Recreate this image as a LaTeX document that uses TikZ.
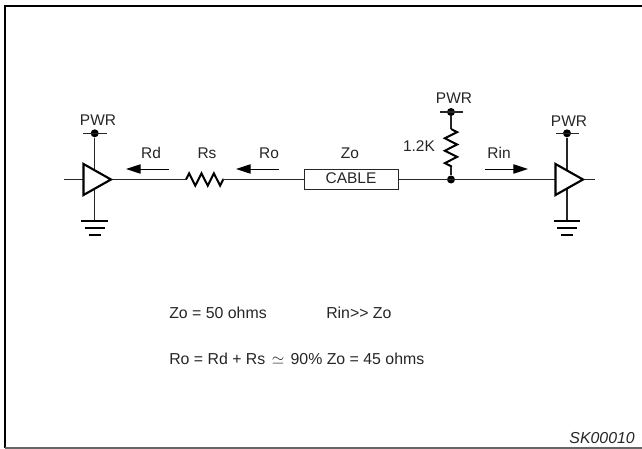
\documentclass[tikz,border=0pt]{standalone}
\usepackage{fontspec}
\setmainfont[Ligatures=NoCommon]{Liberation Sans}
\usetikzlibrary{arrows.meta, decorations.pathmorphing}
\tikzset{%
    % Symbols for the line drawing
    wire/.style    = {line width=0.95pt, black!85},
    buffer/.style  = {line width=1.6pt, line join=miter, fill=white},
    res/.style     = {line width=1.5pt, line join=miter, decorate,
    decoration={zigzag, amplitude=4.6pt, segment length=9.3pt}},
    dot/.style     = {circle, fill=black, inner sep=0pt, minimum size=6pt},
    gnd/.style     = {line width=1.6pt},
    flow/.style    = {-{Triangle[length=11pt,width=7pt]}, line width=0.7pt},
    txt/.style     = {font=\fontsize{11.6}{13}\selectfont, inner sep=0pt, text=black!85},
    eq/.style      = {txt, anchor=west, font=\fontsize{11.9}{13}\selectfont}
}
\begin{document}
\begin{tikzpicture}[x=0.75pt,y=-0.75pt]

	\useasboundingbox (0,0) rectangle (642,449);
	\fill[white] (0,0) rectangle (642,449);

	% cadre
	\coordinate (f1) at (5,448);
	\coordinate (f2) at (5,6);
	\coordinate (f3) at (642,6);
	\coordinate (f4) at (642,448);
	\draw[line width=2.2pt] (f1) -- (f2) -- (f3);
	\draw[line width=1.2pt, black!60] (f1) -- (f4);

	% placement des noeuds
	\coordinate (in1) at (64,179.5);
	\coordinate (t1) at (83.5,164);
	\coordinate (b1) at (83.5,195);
	\coordinate (tip1) at (111,179.5);
	\node[dot] (pwr1) at (94.7,133.3) {};
	\coordinate (g1) at (94.7,221.3);
	\coordinate (rs1) at (186,179.5);
	\coordinate (rs2) at (223.5,179.5);
	\node[draw, line width=0.7pt, black!85, minimum width=70.5pt, minimum height=15pt, inner sep=0pt] (cable) at (351,179.5) {};
	\node[dot] (j) at (451,179.5) {};
	\node[dot] (pwr2) at (451,112) {};
	\coordinate (r1) at (451,129);
	\coordinate (r2) at (451,167);
	\coordinate (t2) at (555.5,164);
	\coordinate (b2) at (555.5,195);
	\coordinate (tip2) at (583,179.5);
	\coordinate (out) at (595,179.5);
	\node[dot] (pwr3) at (567,133.3) {};
	\coordinate (g2) at (567,221.3);

	% fils
	\draw[wire] (in1) -- (tip1);
	\draw[wire] (pwr1) -- (g1);
	\draw[wire] (tip1) -- (rs1);
	\draw[wire] (rs2) -- (cable);
	\draw[wire] (cable) -- (tip2);
	\draw[wire] (tip2) -- (out);
	\draw[wire] (pwr3) -- (g2);
	\draw[wire] (pwr2) -- (r1);
	\draw[wire] (r2) -- (j);
	\draw[res] (rs1) -- (rs2);
	\draw[res] (r1) -- (r2);

	% barres PWR
	\draw[wire] ([xshift=-8.5pt]pwr1.center) -- ([xshift=9pt]pwr1.center);
	\draw[wire] ([xshift=-8.5pt]pwr2.center) -- ([xshift=9pt]pwr2.center);
	\draw[wire] ([xshift=-8.5pt]pwr3.center) -- ([xshift=9pt]pwr3.center);

	% amplis
	\draw[buffer] (t1) -- (tip1) -- (b1) -- cycle;
	\draw[buffer] (t2) -- (tip2) -- (b2) -- cycle;

	% masses
	\draw[gnd] ([xshift=-10pt]g1) -- ([xshift=10pt]g1);
	\draw[gnd] ([xshift=-7.5pt,yshift=-5pt]g1) -- ([xshift=7.5pt,yshift=-5pt]g1);
	\draw[gnd] ([xshift=-4.5pt,yshift=-10pt]g1) -- ([xshift=4.5pt,yshift=-10pt]g1);
	\draw[gnd] ([xshift=-10pt]g2) -- ([xshift=10pt]g2);
	\draw[gnd] ([xshift=-7.5pt,yshift=-5pt]g2) -- ([xshift=7.5pt,yshift=-5pt]g2);
	\draw[gnd] ([xshift=-4.5pt,yshift=-10pt]g2) -- ([xshift=4.5pt,yshift=-10pt]g2);

	% fleches
	\coordinate (a1) at (169,169);
	\coordinate (a2) at (126,169);
	\coordinate (a3) at (279,169);
	\coordinate (a4) at (236,169);
	\coordinate (a5) at (485,169);
	\coordinate (a6) at (528,169);
	\draw[flow] (a1) -- (a2);
	\draw[flow] (a3) -- (a4);
	\draw[flow] (a5) -- (a6);

	% textes
	\node[txt] (lpwr1) at (98,120) {PWR};
	\node[txt] (lpwr2) at (454,98.5) {PWR};
	\node[txt] (lpwr3) at (569,121) {PWR};
	\node[txt] (lrd) at (151,153) {Rd};
	\node[txt] (lrs) at (207,153) {Rs};
	\node[txt] (lro) at (269,153) {Ro};
	\node[txt] (lzo) at (350,153) {Zo};
	\node[txt] (lcable) at (351,178.5) {CABLE};
	\node[txt] (lr) at (419,146) {1.2K};
	\node[txt] (lrin) at (499,153) {Rin};
	\node[eq] (eq1) at (169,313) {Zo = 50 ohms};
	\node[eq] (eq2) at (326,313) {Rin{>}{>} Zo};
	\node[eq] (eq3) at (169,359) {Ro = Rd + Rs\hspace{1.5pt} $\simeq$\hspace{1.5pt} 90\% Zo = 45 ohms};
	\node[txt, anchor=east, font=\fontsize{11.9}{13}\selectfont\itshape] (sk) at (635,438) {SK00010};

\end{tikzpicture}
\end{document}
